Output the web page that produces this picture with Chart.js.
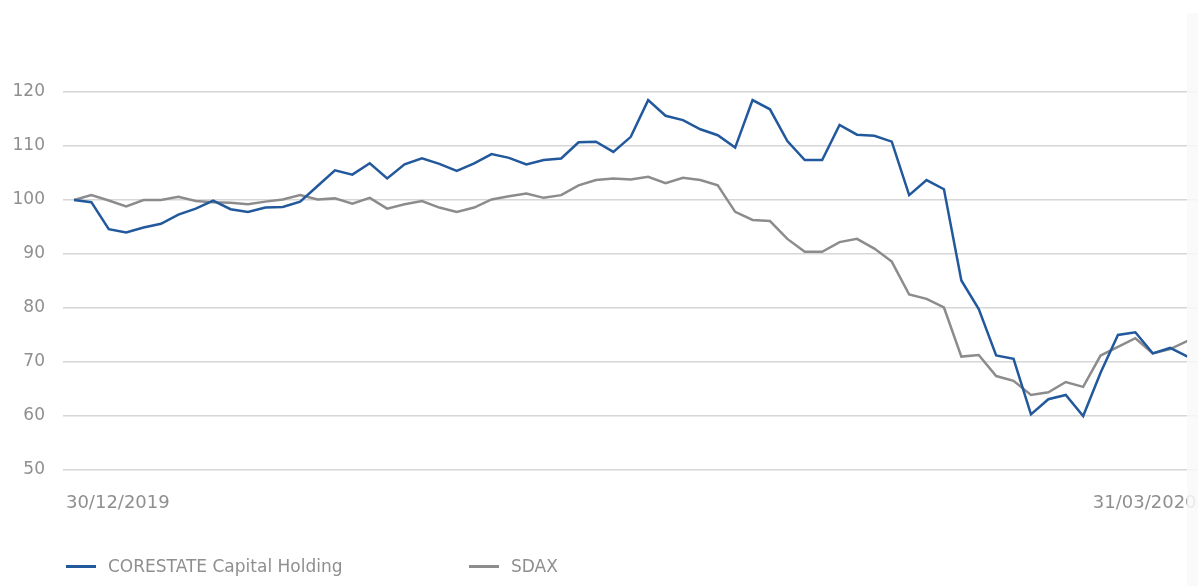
<!DOCTYPE html>
<html>
<head>
<meta charset="utf-8">
<script src="https://cdn.jsdelivr.net/npm/chart.js"></script>
<style>
  html, body { margin: 0; padding: 0; background: #fff; overflow: hidden; }
  #wrap { position: relative; width: 1198px; height: 586px; font-family: "DejaVu Sans", Verdana, sans-serif; }
  #legend { position: absolute; left: 0; top: 554px; width: 1198px; height: 26px; color: #8f8f8f; font-size: 17px; }
  .item { position: absolute; top: 0; line-height: 24px; white-space: nowrap; }
  .item .sw { position: absolute; top: 11px; width: 30px; height: 3px; }
  .item .tx { position: absolute; left: 42px; top: 0; }
  #strip { position: absolute; left: 1187px; top: 13px; width: 11px; height: 573px; background: rgba(249,249,249,0.85); }
</style>
</head>
<body>
<div id="wrap">
  <canvas id="myChart" width="1198" height="586"></canvas>
  <div id="legend"></div>
  <div id="strip"></div>
</div>
<script>
// trading days shown on the x axis
const dates = [
  '30/12/2019',
  '02/01/2020', '03/01/2020', '06/01/2020', '07/01/2020', '08/01/2020', '09/01/2020', '10/01/2020',
  '13/01/2020', '14/01/2020', '15/01/2020', '16/01/2020', '17/01/2020', '20/01/2020', '21/01/2020',
  '22/01/2020', '23/01/2020', '24/01/2020', '27/01/2020', '28/01/2020', '29/01/2020', '30/01/2020',
  '31/01/2020',
  '03/02/2020', '04/02/2020', '05/02/2020', '06/02/2020', '07/02/2020', '10/02/2020', '11/02/2020',
  '12/02/2020', '13/02/2020', '14/02/2020', '17/02/2020', '18/02/2020', '19/02/2020', '20/02/2020',
  '21/02/2020', '24/02/2020', '25/02/2020', '26/02/2020', '27/02/2020', '28/02/2020',
  '02/03/2020', '03/03/2020', '04/03/2020', '05/03/2020', '06/03/2020', '09/03/2020', '10/03/2020',
  '11/03/2020', '12/03/2020', '13/03/2020', '16/03/2020', '17/03/2020', '18/03/2020', '19/03/2020',
  '20/03/2020', '23/03/2020', '24/03/2020', '25/03/2020', '26/03/2020', '27/03/2020', '30/03/2020',
  '31/03/2020'
];

const corestate = [
  100, 99.6, 94.6, 94.0, 94.9, 95.6, 97.3, 98.4, 99.9, 98.3,
  97.8, 98.6, 98.7, 99.7, 102.6, 105.5, 104.7, 106.8, 104.0, 106.6,
  107.7, 106.7, 105.4, 106.8, 108.5, 107.8, 106.6, 107.4, 107.7, 110.7,
  110.8, 108.9, 111.7, 118.5, 115.6, 114.8, 113.1, 112.0, 109.7, 118.5,
  116.8, 110.9, 107.4, 107.4, 113.9, 112.1, 111.9, 110.8, 100.9, 103.7,
  102.0, 85.1, 79.8, 71.2, 70.6, 60.3, 63.1, 63.9, 60.0, 68.0,
  75.0, 75.5, 71.6, 72.6, 71.0
];

const sdax = [
  100, 100.9, 99.9, 98.8, 100.0, 100.0, 100.6, 99.8, 99.6, 99.5,
  99.2, 99.7, 100.1, 100.9, 100.1, 100.3, 99.3, 100.4, 98.4, 99.2,
  99.8, 98.6, 97.8, 98.6, 100.1, 100.7, 101.2, 100.4, 100.9, 102.7,
  103.7, 104.0, 103.8, 104.3, 103.1, 104.1, 103.7, 102.7, 97.8, 96.3,
  96.1, 92.8, 90.4, 90.4, 92.2, 92.8, 91.0, 88.6, 82.5, 81.7,
  80.1, 71.0, 71.3, 67.4, 66.5, 63.9, 64.4, 66.3, 65.4, 71.2,
  72.8, 74.4, 71.6, 72.4, 73.9
];

const seriesNames = ['CORESTATE Capital Holding', 'SDAX'];
const seriesColors = ['#22589c', '#8c8c8c'];
const yTicks = [50, 60, 70, 80, 90, 100, 110, 120];

const textGray = '#8f8f8f';
const font = '"DejaVu Sans", Verdana, sans-serif';

function toPoints(arr) {
  return arr.map((v, i) => ({ x: i, y: v }));
}

// first and last date under the plot
const dateLabels = {
  id: 'dateLabels',
  afterDraw(chart) {
    const x = chart.scales.x;
    const c = chart.ctx;
    c.save();
    c.font = '18px ' + font;
    c.fillStyle = textGray;
    c.textBaseline = 'middle';
    c.textAlign = 'left';
    c.fillText(dates[0], x.getPixelForValue(0) - 8, 503);
    c.textAlign = 'right';
    c.fillText(dates[dates.length - 1], x.getPixelForValue(dates.length - 1) + 9, 503);
    c.restore();
  }
};

const ctx = document.getElementById('myChart').getContext('2d');
const myChart = new Chart(ctx, {
  type: 'line',
  data: {
    datasets: [
      {
        label: seriesNames[0],
        data: toPoints(corestate),
        borderColor: seriesColors[0],
        borderWidth: 2.5,
        pointRadius: 0,
        tension: 0
      },
      {
        label: seriesNames[1],
        data: toPoints(sdax),
        borderColor: seriesColors[1],
        borderWidth: 2.5,
        pointRadius: 0,
        tension: 0
      }
    ]
  },
  options: {
    responsive: false,
    animation: false,
    layout: { padding: { top: 92, bottom: 116, left: 0, right: 0 } },
    plugins: {
      legend: { display: false },
      tooltip: { enabled: false }
    },
    scales: {
      x: {
        type: 'linear',
        min: -0.63,
        max: 64.6,
        display: false
      },
      y: {
        min: 50,
        max: 120,
        afterFit: (s) => { s.width = 63; },
        afterBuildTicks: (s) => { s.ticks = yTicks.map(v => ({ value: v })); },
        border: { display: false },
        grid: { color: '#d6d6d6', lineWidth: 1.5, drawTicks: false },
        ticks: {
          padding: 18,
          color: textGray,
          font: { family: font, size: 17 }
        }
      }
    }
  },
  plugins: [dateLabels]
});

// html legend
const legend = document.getElementById('legend');
const lefts = [66, 469];
seriesNames.forEach((name, i) => {
  const it = document.createElement('div');
  it.className = 'item';
  it.style.left = lefts[i] + 'px';
  it.innerHTML = '<span class="sw" style="background:' + seriesColors[i] + '"></span><span class="tx">' + name + '</span>';
  legend.appendChild(it);
});
</script>
</body>
</html>
